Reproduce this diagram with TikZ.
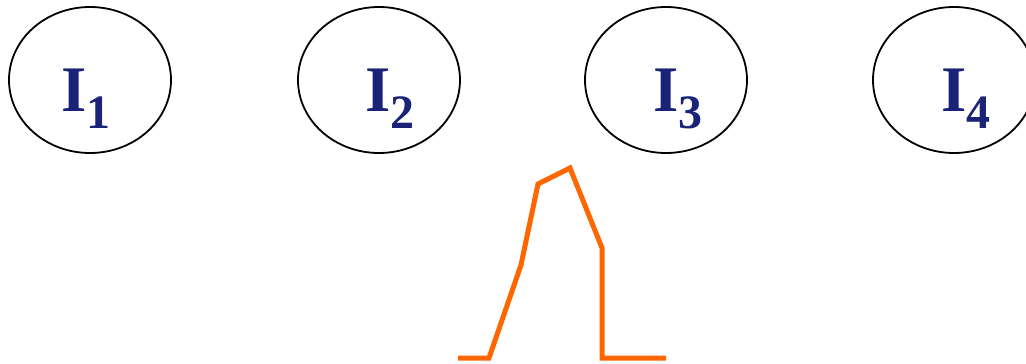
\documentclass[tikz,border=0pt]{standalone}
\usepackage{fontspec}
\setmainfont{Liberation Serif}
\definecolor{navy}{RGB}{26,35,120}
\definecolor{orng}{RGB}{255,102,0}
\usetikzlibrary{shapes.geometric}
\tikzset{
  item/.style={draw=black, line width=1.8pt, ellipse, minimum width=162pt, minimum height=146pt, inner sep=0pt},
  lbl/.style={text=navy, font=\bfseries\fontsize{65}{65}\selectfont, anchor=base west, inner sep=0pt},
  curve/.style={draw=orng, line width=5pt, line join=miter}
}
\begin{document}
\begin{tikzpicture}[x=1pt,y=-1pt]
\useasboundingbox (0,0) rectangle (1026,364);
\foreach \n/\cx/\tx in {1/90/61,2/379/365,3/666/653,4/954/941}{
  \node[item] (e\n) at (\cx,80) {};
  \node[lbl] (t\n) at (\tx,111) {I\raisebox{-17pt}{\fontsize{48}{48}\selectfont\n}};
}
\coordinate (p0) at (458,358);
\coordinate (p1) at (489,358);
\coordinate (p2) at (521,265);
\coordinate (p3) at (538,184);
\coordinate (p4) at (570,168);
\coordinate (p5) at (602,248);
\coordinate (p6) at (602,358);
\coordinate (p7) at (666,358);
\draw[curve] (p0) -- (p1) -- (p2) -- (p3) -- (p4) -- (p5) -- (p6) -- (p7);
\end{tikzpicture}
\end{document}
